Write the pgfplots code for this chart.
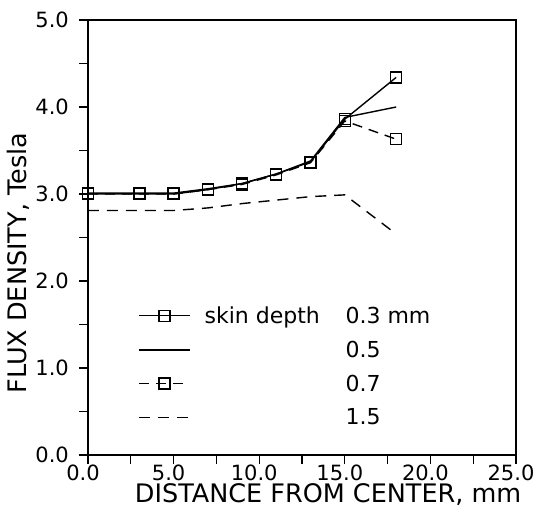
\documentclass[border=0pt]{standalone}
\usepackage{pgfplots}
\pgfplotsset{compat=1.18}
\usepackage{fontspec}
\setmainfont{DejaVu Sans}
\begin{document}
\begin{tikzpicture}
\useasboundingbox (-88pt,-54pt) rectangle (448pt,455pt);
\begin{axis}[
 at={(0pt,0pt)}, anchor=south west,
 scale only axis, width=428pt, height=435pt,
 xmin=0, xmax=25, ymin=0, ymax=5,
 xtick={0,5,...,25}, ytick={0,1,...,5},
 minor xtick={2.5,7.5,...,22.5}, minor ytick={0.5,1.5,...,4.5},
 tick align=outside, tick pos=left,
 major tick length=9pt, minor tick length=9pt,
 axis line style={line width=1.5pt},
 every tick/.style={line width=1.3pt, black},
 ticklabel style={font=\fontsize{21}{24}\selectfont, inner sep=0pt},
 xticklabel style={anchor=base, yshift=-16pt, xshift=-5pt},
 yticklabel style={anchor=east, xshift=-10pt},
 /pgf/number format/assume math mode=true,
 /pgf/number format/fixed, /pgf/number format/fixed zerofill, /pgf/number format/precision=1,
 xlabel={DISTANCE FROM CENTER, mm},
 ylabel={FLUX DENSITY, Tesla},
 label style={font=\fontsize{25.5}{28}\selectfont, inner sep=0pt},
 xlabel style={at={(axis description cs:0.561,-0.109)}, anchor=base},
 ylabel style={at={(axis description cs:-0.163,0.441)}, anchor=center},
 legend style={at={(axis cs:2.92,1.73)}, anchor=north west, draw=none, fill=none,
   font=\fontsize{22}{24}\selectfont, row sep=12pt, inner sep=0pt},
 legend cell align=left,
 legend image code/.code={\draw[mark repeat=2, mark phase=2, #1] plot coordinates {(0pt,0pt) (25.5pt,0pt) (51pt,0pt)};},
 every axis plot/.append style={line width=1.4pt, black},
]
\addplot[mark=square, mark size=5.5pt, mark options={solid, fill=white, line width=1.3pt}] coordinates {
 (0,3.01)(3,3.01)(5,3.01)(7,3.06)(9,3.12)(11,3.23)(13,3.37)(15,3.86)(18,4.34)};
\addlegendentry{\hspace*{12pt}\makebox[141pt][l]{skin depth}0.3 mm}
\addplot[] coordinates {
 (0,3.0)(3,3.0)(5,3.0)(7,3.05)(9,3.12)(11,3.23)(13,3.38)(15,3.88)(18,4.0)};
\addlegendentry{\hspace*{153pt}0.5}
\addplot[dash pattern=on 10pt off 7pt, mark=square, mark size=5.5pt, mark options={solid, fill=white, line width=1.3pt}] coordinates {
 (0,3.0)(3,3.0)(5,3.0)(7,3.05)(9,3.11)(11,3.22)(13,3.36)(15,3.84)(18,3.63)};
\addlegendentry{\hspace*{153pt}0.7}
\addplot[dash pattern=on 11pt off 8pt] coordinates {
 (0,2.81)(3,2.81)(5,2.81)(7,2.84)(9,2.89)(11,2.93)(13,2.97)(15,2.99)(18,2.54)};
\addlegendentry{\hspace*{153pt}1.5}
\end{axis}
\end{tikzpicture}
\end{document}
